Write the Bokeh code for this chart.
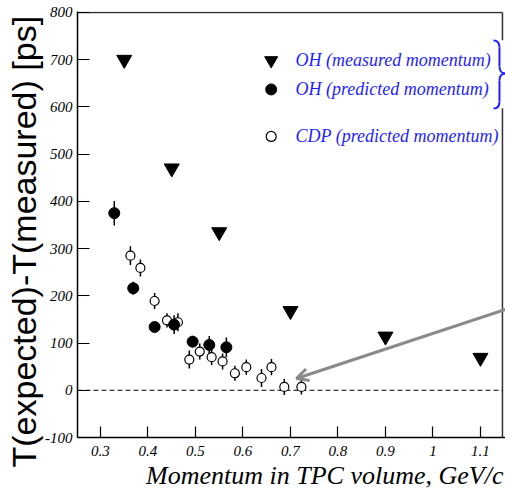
from bokeh.plotting import figure
from bokeh.models import Range1d, FixedTicker, Arrow, OpenHead, Title
from bokeh.core.properties import value
from bokeh.embed import file_html
from bokeh.resources import INLINE

# ---- data ----
oh_meas_p = [0.35, 0.45, 0.55, 0.70, 0.90, 1.10]
oh_meas_dt = [700, 470, 335, 168, 114, 69]

oh_pred_p = [0.329, 0.369, 0.414, 0.455, 0.494, 0.529, 0.565]
oh_pred_dt = [375, 216, 134, 139, 103, 96, 91]
oh_pred_err = [26, 14, 5, 20, 12, 19, 21]

cdp_p = [0.363, 0.384, 0.414, 0.440, 0.463, 0.487, 0.509, 0.534, 0.557,
         0.583, 0.607, 0.639, 0.660, 0.687, 0.723]
cdp_dt = [285, 259, 189, 148, 144, 65, 82, 70, 61, 36, 49, 26, 49, 7, 7]
cdp_err = [20, 18, 17, 15, 19, 19, 17, 17, 17, 16, 16, 19, 17, 17, 16]

x_ticks = [0.3, 0.4, 0.5, 0.6, 0.7, 0.8, 0.9, 1.0, 1.1]
x_tick_labels = ["0.3", "0.4", "0.5", "0.6", "0.7", "0.8", "0.9", "1", "1.1"]
y_ticks = [-100, 0, 100, 200, 300, 400, 500, 600, 700, 800]
y_tick_labels = ["-100", "0", "100", "200", "300", "400", "500", "600",
                 "700", "800"]

legend_labels = ["OH (measured momentum)", "OH (predicted momentum)",
                 "CDP (predicted momentum)"]

SERIF = "Liberation Serif"
BLUE = "#1f1fff"

p = figure(width=505, height=490, output_backend="svg", toolbar_location=None,
           x_range=Range1d(0.2516, 1.1527), y_range=Range1d(-100, 802),
           min_border_left=77, min_border_right=0, min_border_top=11,
           min_border_bottom=53)
p.outline_line_color = None
p.grid.visible = False
p.background_fill_color = "white"

xa = p.xaxis[0]
ya = p.yaxis[0]
xa.ticker = FixedTicker(ticks=x_ticks)
xa.major_label_overrides = dict(zip(x_ticks, x_tick_labels))
ya.ticker = FixedTicker(ticks=y_ticks)
ya.major_label_overrides = dict(zip(y_ticks, y_tick_labels))
for ax in (xa, ya):
    ax.axis_line_color = "black"
    ax.axis_line_width = 1.5
    ax.major_tick_line_color = "black"
    ax.major_tick_line_width = 1.2
    ax.major_tick_out = 0
    ax.minor_tick_line_color = None
    ax.major_label_text_font = SERIF
    ax.major_label_text_font_style = "italic"
    ax.major_label_text_font_size = "15px"
    ax.major_label_text_color = "black"
xa.major_tick_in = 11
ya.major_tick_in = 12
xa.major_label_standoff = 8
ya.major_label_standoff = 5

# top and right frame lines
p.line(x=[0.2516, 1.1463], y=[800, 800], line_color="#333333", line_width=1.5)
p.line(x=[1.1463, 1.1463], y=[-100, 800], line_color="#333333", line_width=1.5)

# zero line
p.line(x=[0.2516, 1.1463], y=[0, 0], line_color="black", line_width=1,
       line_dash="5 3")

# error bars
p.segment(x0=oh_pred_p, x1=oh_pred_p,
          y0=[v - e for v, e in zip(oh_pred_dt, oh_pred_err)],
          y1=[v + e for v, e in zip(oh_pred_dt, oh_pred_err)],
          line_color="black", line_width=1.5)
p.segment(x0=cdp_p, x1=cdp_p,
          y0=[v - e for v, e in zip(cdp_dt, cdp_err)],
          y1=[v + e for v, e in zip(cdp_dt, cdp_err)],
          line_color="black", line_width=1.5)

# markers
p.scatter(x=oh_meas_p, y=oh_meas_dt, marker="inverted_triangle", size=15,
          fill_color="black", line_color="black")
p.scatter(x=cdp_p, y=cdp_dt, marker="circle", size=9, fill_color="white",
          line_color="black", line_width=1.2)
p.scatter(x=oh_pred_p, y=oh_pred_dt, marker="circle", size=11,
          fill_color="black", line_color="black")

# legend (manual)
leg_x = 0.6594
leg_tx = 0.7105
leg_y = [698.4, 637.0, 537.5]
p.scatter(x=[leg_x], y=[leg_y[0]], marker="inverted_triangle", size=13,
          fill_color="black", line_color="black")
p.scatter(x=[leg_x], y=[leg_y[1]], marker="circle", size=11,
          fill_color="black", line_color="black")
p.scatter(x=[leg_x], y=[leg_y[2]], marker="circle", size=10,
          fill_color="white", line_color="black", line_width=1.2)
p.text(x=[leg_tx] * 3, y=leg_y, text=legend_labels,
       text_font=value(SERIF), text_font_style="italic",
       text_font_size="18px", text_color=BLUE,
       text_align="left", text_baseline="middle")

# brace
p.quad(left=1.130, right=1.1527, bottom=597, top=741, fill_color="white",
       line_color=None)
bx0 = [1.1274, 1.1400, 1.1400, 1.1526, 1.1400, 1.1400]
by0 = [740.7, 725.9, 685.7, 670.8, 656.0, 611.6]
bx1 = [1.1400, 1.1400, 1.1526, 1.1400, 1.1400, 1.1274]
by1 = [725.9, 685.7, 670.8, 656.0, 611.6, 596.7]
bcx0 = [1.1358, 1.1400, 1.1400, 1.1463, 1.1400, 1.1400]
bcy0 = [740.7, 725.9, 675.1, 670.8, 656.0, 603.2]
bcx1 = [1.1400, 1.1400, 1.1463, 1.1400, 1.1400, 1.1358]
bcy1 = [734.3, 685.7, 670.8, 666.6, 611.6, 596.7]
p.bezier(x0=bx0, y0=by0, x1=bx1, y1=by1, cx0=bcx0, cy0=bcy0, cx1=bcx1,
         cy1=bcy1, line_color=BLUE, line_width=2)

# arrow
p.add_layout(Arrow(end=OpenHead(size=12, line_color="#8a8a8a", line_width=3),
                   x_start=1.1527, y_start=171, x_end=0.7126, y_end=25,
                   line_color="#8a8a8a", line_width=3))

# titles
p.add_layout(Title(text="Momentum in TPC volume, GeV/c", align="right",
                   text_font=SERIF, text_font_style="italic",
                   text_font_size="26px", text_color="black", standoff=0,
                   offset=2), "below")
p.add_layout(Title(text="T(expected)-T(measured) [ps]", align="left",
                   text_font="Liberation Sans", text_font_style="normal",
                   text_font_size="34px", text_color="black", standoff=0,
                   offset=-30), "left")

open("out.html", "w").write(file_html(p, INLINE))
